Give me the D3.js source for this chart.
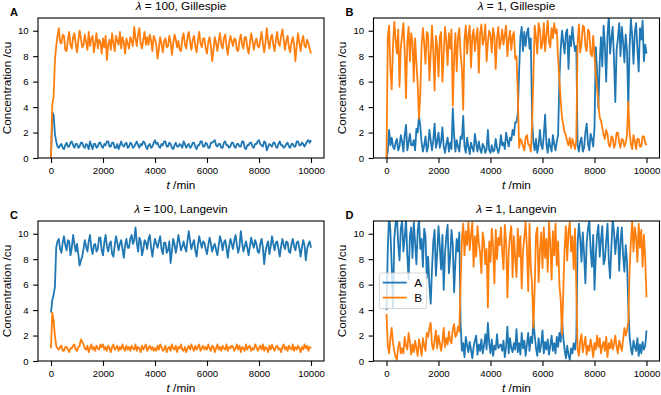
<!DOCTYPE html>
<html>
<head>
<meta charset="utf-8">
<script src="https://cdn.jsdelivr.net/npm/d3@7"></script>
<style>
  body { margin: 0; background: #fff; }
  svg { display: block; font-family: "Liberation Sans", Arial, sans-serif; }
</style>
</head>
<body>
<div id="chart"></div>
<script>
// sampling times in min (every 50 min)
var times = d3.range(0, 10001, 50);

var xTicks = [0, 2000, 4000, 6000, 8000, 10000];
var yTicks = [0, 2, 4, 6, 8, 10];

// lambda = 100, Gillespie
var gilA100 = [
  0, 3.6, 3.4, 1.9, 1.3, 0.9, 0.8, 1.0, 1.1, 0.8,
  0.7, 1.0, 1.2, 0.9, 0.9, 1.2, 1.3, 1.0, 0.8, 1.1,
  1.1, 0.8, 0.9, 1.2, 1.2, 0.9, 0.8, 1.1, 1.0, 0.7,
  1.3, 1.0, 0.7, 1.1, 1.1, 0.8, 0.9, 1.2, 1.2, 0.9,
  0.8, 1.1, 1.0, 1.3, 1.3, 0.9, 0.9, 1.2, 1.2, 0.8,
  0.8, 1.1, 0.7, 1.0, 1.3, 1.0, 0.9, 1.1, 1.2, 0.8,
  0.9, 1.2, 1.1, 0.8, 0.9, 1.1, 1.3, 1.0, 0.8, 1.1,
  1.0, 1.3, 1.2, 0.9, 0.7, 1.0, 1.1, 0.8, 0.9, 1.2,
  1.4, 1.1, 1.2, 0.9, 0.8, 1.1, 1.0, 1.3, 1.3, 0.9,
  0.9, 1.2, 1.1, 0.8, 0.7, 1.0, 1.2, 0.9, 0.9, 1.1,
  1.0, 0.8, 1.3, 1.1, 0.8, 1.0, 1.1, 0.8, 0.9, 1.2,
  1.2, 0.9, 0.7, 1.0, 1.0, 1.3, 1.3, 0.9, 0.9, 1.2,
  1.1, 0.8, 0.8, 1.2, 1.2, 1.3, 1.4, 1.0, 0.9, 1.1,
  1.1, 0.8, 0.8, 1.2, 1.3, 1.0, 1.0, 0.8, 0.9, 1.2,
  1.2, 0.9, 0.8, 1.1, 1.1, 0.9, 0.9, 1.3, 1.3, 0.8,
  0.7, 1.0, 1.0, 1.2, 1.2, 0.9, 0.8, 1.1, 1.1, 1.3,
  1.4, 1.1, 1.0, 0.9, 1.3, 1.2, 0.6, 0.9, 1.1, 1.0,
  0.9, 1.2, 1.2, 0.9, 0.8, 1.1, 1.3, 1.0, 1.0, 0.8,
  0.9, 1.1, 1.2, 0.9, 0.8, 1.1, 1.1, 0.9, 0.9, 1.3,
  1.3, 1.0, 1.0, 1.2, 1.1, 0.9, 1.1, 1.3, 1.4, 1.2,
  1.4];
var gilB100 = [
  0, 4.2, 4.8, 7.6, 8.8, 9.6, 10.2, 9.1, 9.0, 9.7,
  9.6, 8.5, 8.4, 9.3, 9.9, 8.9, 8.6, 9.5, 9.8, 9.0,
  8.3, 9.2, 10.0, 9.4, 8.7, 8.9, 9.7, 9.1, 8.5, 9.9,
  8.8, 9.4, 9.6, 8.3, 9.0, 9.8, 8.6, 9.3, 9.1, 8.2,
  9.4, 8.7, 9.6, 7.7, 8.9, 9.3, 8.5, 9.8, 9.0, 8.4,
  9.6, 9.2, 8.9, 9.9, 8.6, 9.5, 9.1, 8.2, 9.4, 9.0,
  8.6, 9.5, 9.2, 8.8, 10.3, 9.4, 8.8, 9.7, 10.2, 9.0,
  8.6, 9.3, 9.9, 8.9, 9.5, 8.9, 9.7, 9.2, 8.4, 9.6,
  9.3, 8.9, 7.8, 8.6, 9.5, 9.0, 8.3, 9.2, 9.4, 8.7,
  8.8, 9.6, 9.1, 8.1, 9.0, 9.7, 9.3, 8.7, 9.2, 8.5,
  8.4, 9.4, 9.8, 8.9, 8.6, 9.5, 9.9, 9.1, 8.5, 9.3,
  9.6, 8.8, 8.3, 9.2, 9.9, 9.0, 8.7, 9.4, 9.4, 8.6,
  8.2, 9.1, 9.5, 8.8, 7.6, 8.5, 9.5, 9.0, 8.4, 9.2,
  9.8, 8.9, 8.6, 9.4, 9.7, 8.8, 8.1, 9.0, 9.6, 9.2,
  8.8, 9.4, 9.3, 8.5, 8.4, 9.2, 9.7, 8.9, 8.6, 9.5,
  9.5, 8.7, 8.2, 9.0, 9.8, 9.2, 8.5, 9.1, 9.4, 8.8,
  8.7, 9.3, 9.9, 9.0, 8.3, 9.1, 10.2, 9.2, 8.6, 9.4,
  9.7, 8.9, 8.4, 9.3, 9.9, 9.0, 8.8, 9.6, 10.1, 9.3,
  8.5, 9.2, 9.6, 8.7, 8.3, 9.1, 9.5, 8.9, 7.6, 8.8,
  9.8, 9.1, 8.4, 9.2, 9.6, 8.8, 8.7, 9.3, 9.0, 8.6,
  8.2];

// lambda = 1, Gillespie
var gilA1 = [
  0, 0.5, 2.2, 1.0, 1.6, 0.9, 0.7, 1.2, 1.5, 0.6,
  0.9, 1.8, 1.3, 0.5, 1.8, 2.6, 0.6, 1.2, 1.9, 1.0,
  1.0, 1.4, 0.6, 2.3, 2.0, 3.4, 2.5, 1.2, 0.5, 1.0,
  1.7, 0.5, 0.9, 2.2, 1.4, 0.6, 1.4, 2.7, 0.8, 1.3,
  2.0, 0.8, 1.3, 2.4, 0.9, 0.4, 1.1, 1.6, 0.5, 1.2,
  0.7, 3.9, 1.8, 0.5, 1.4, 0.9, 0.5, 1.7, 1.5, 3.3,
  0.9, 0.4, 1.6, 0.9, 0.3, 1.2, 0.8, 0.5, 1.9, 1.1,
  0.5, 1.3, 0.7, 0.4, 1.1, 0.9, 0.4, 0.7, 2.2, 0.6,
  0.4, 1.0, 0.5, 0.6, 1.5, 0.8, 0.4, 0.8, 1.8, 1.0,
  1.2, 0.7, 2.0, 1.4, 0.9, 1.6, 1.4, 2.2, 1.8, 2.8,
  2.8, 3.5, 6.8, 9.5, 10.3, 8.4, 9.9, 8.8, 9.8, 10.2,
  8.6, 9.4, 3.1, 1.2, 0.6, 1.5, 0.4, 1.0, 2.2, 1.0,
  0.7, 1.8, 3.4, 1.1, 0.4, 1.5, 0.9, 0.5, 1.8, 1.1,
  0.6, 1.3, 1.8, 6.2, 8.5, 10.0, 9.1, 8.2, 9.8, 10.1,
  7.0, 9.6, 8.8, 10.3, 9.2, 8.4, 8.8, 1.0, 0.5, 1.3,
  1.6, 0.5, 0.8, 2.0, 2.7, 1.1, 0.6, 1.9, 1.5, 0.9,
  2.4, 8.7, 6.8, 3.9, 7.5, 9.5, 7.2, 10.4, 8.8, 6.0,
  9.6, 11.2, 8.2, 9.4, 10.3, 7.8, 4.4, 8.5, 9.4, 10.6,
  8.0, 10.3, 9.1, 7.5, 9.7, 8.4, 4.0, 8.8, 10.9, 9.6,
  7.4, 9.9, 10.6, 8.6, 6.8, 10.2, 9.3, 10.8, 7.6, 8.9,
  8.2];
var gilB1 = [
  0, 9.5, 10.4, 7.0, 5.4, 8.8, 10.7, 9.3, 8.2, 10.1,
  5.6, 8.7, 9.6, 10.6, 8.4, 4.7, 9.1, 10.3, 7.6, 9.8,
  9.1, 6.0, 9.4, 7.5, 5.8, 3.1, 5.2, 8.8, 10.2, 9.0,
  7.4, 9.9, 9.7, 6.1, 8.2, 10.4, 8.3, 5.3, 9.6, 8.7,
  6.4, 9.5, 9.9, 6.0, 8.1, 10.3, 9.2, 7.3, 9.8, 8.6,
  10.1, 4.1, 7.9, 9.8, 6.8, 9.5, 10.2, 8.2, 7.0, 3.8,
  9.3, 10.4, 8.2, 9.6, 10.4, 7.1, 9.6, 10.1, 8.4, 9.5,
  10.2, 6.7, 9.8, 10.5, 8.9, 9.3, 10.5, 7.6, 9.1, 10.0,
  9.7, 8.3, 10.2, 9.6, 7.0, 9.4, 10.3, 8.6, 9.2, 10.1,
  8.9, 9.7, 10.4, 8.0, 9.3, 10.0, 8.5, 9.6, 9.9, 7.8,
  8.0, 5.0, 0.8, 1.5, 1.3, 0.9, 0.6, 1.6, 1.8, 1.1,
  1.0, 0.5, 2.6, 6.5, 10.4, 9.5, 8.2, 10.6, 10.1, 8.6,
  9.0, 10.6, 8.4, 9.7, 10.8, 9.1, 8.7, 10.2, 9.4, 10.6,
  9.8, 10.1, 7.8, 6.2, 4.5, 3.2, 2.6, 2.0, 1.8, 1.3,
  1.0, 1.6, 0.8, 1.5, 1.1, 0.7, 1.4, 9.0, 10.5, 8.3,
  9.0, 10.4, 10.3, 8.8, 8.4, 10.1, 9.9, 8.2, 8.0, 9.6,
  8.0, 6.6, 5.5, 4.3, 3.2, 2.9, 2.4, 1.8, 1.5, 2.2,
  1.9, 1.0, 0.9, 1.7, 1.6, 0.8, 1.1, 2.0, 2.0, 1.2,
  0.8, 1.5, 1.4, 0.9, 1.2, 1.8, 4.4, 2.0, 1.1, 0.7,
  1.8, 1.3, 0.7, 1.5, 1.5, 0.9, 0.9, 1.7, 1.7, 1.2,
  1.0];

// lambda = 100, Langevin
var lanA100 = [
  3.8, 4.8, 5.2, 5.8, 8.9, 9.4, 9.6, 8.8, 8.5, 9.3,
  9.8, 9.1, 8.7, 9.5, 9.4, 8.3, 8.9, 9.9, 9.2, 8.6,
  9.2, 8.4, 7.5, 7.9, 8.2, 8.8, 9.5, 9.0, 8.6, 9.4,
  9.9, 8.9, 8.4, 9.1, 9.2, 8.6, 8.8, 9.7, 9.7, 8.7,
  8.3, 9.3, 9.9, 9.0, 8.6, 9.2, 9.4, 8.4, 8.2, 9.0,
  9.8, 9.3, 8.7, 9.2, 9.5, 8.8, 8.1, 9.1, 9.6, 8.9,
  8.9, 9.6, 9.9, 9.2, 9.5, 10.5, 9.3, 8.6, 9.7, 9.4,
  8.3, 8.8, 9.5, 9.3, 8.8, 9.6, 9.9, 8.9, 8.2, 9.0,
  9.6, 9.2, 8.9, 9.4, 9.8, 8.8, 8.4, 9.3, 9.3, 8.5,
  8.7, 9.4, 7.7, 8.6, 9.6, 9.2, 8.5, 9.1, 9.9, 9.3,
  8.7, 9.0, 9.4, 8.9, 8.6, 9.5, 10.2, 9.4, 8.8, 9.2,
  9.5, 8.7, 8.2, 9.1, 9.8, 9.3, 8.9, 9.4, 9.3, 8.8,
  8.4, 9.1, 9.7, 9.2, 8.6, 9.0, 9.2, 8.7, 8.3, 9.1,
  9.8, 9.4, 8.7, 9.3, 9.5, 8.9, 8.1, 9.0, 9.6, 9.2,
  8.8, 9.5, 9.9, 9.1, 8.5, 9.0, 10.2, 9.3, 8.6, 9.0,
  9.4, 8.9, 8.3, 9.0, 9.7, 9.2, 8.9, 9.5, 9.2, 8.6,
  8.5, 9.2, 9.6, 8.9, 7.6, 8.6, 9.1, 9.4, 8.4, 9.0,
  9.8, 9.2, 8.7, 9.3, 9.4, 8.8, 8.2, 9.0, 9.6, 9.1,
  8.8, 9.4, 9.3, 8.6, 8.5, 9.2, 9.6, 9.0, 8.7, 9.3,
  9.4, 8.9, 8.2, 8.9, 9.5, 9.1, 7.9, 8.8, 9.2, 9.4,
  8.9];
var lanB100 = [
  1.0, 3.8, 3.2, 2.0, 1.2, 1.0, 0.9, 1.1, 1.2, 0.8,
  0.8, 1.1, 1.1, 0.9, 0.7, 1.0, 1.0, 1.2, 1.3, 0.9,
  0.8, 1.1, 1.2, 1.7, 1.5, 1.3, 1.0, 0.9, 1.2, 0.7,
  1.0, 1.3, 0.9, 1.1, 0.8, 1.2, 1.0, 0.9, 1.3, 1.1,
  1.3, 0.9, 1.1, 0.8, 1.2, 1.0, 0.7, 1.1, 1.3, 0.9,
  1.0, 1.2, 0.8, 1.1, 0.9, 1.3, 1.0, 0.8, 1.2, 0.9,
  1.1, 0.8, 1.2, 1.0, 0.9, 1.3, 0.8, 1.1, 1.0, 0.7,
  1.2, 0.9, 1.1, 1.3, 0.8, 1.0, 1.2, 0.9, 1.1, 0.8,
  1.0, 0.8, 1.2, 0.9, 1.3, 1.1, 0.8, 0.9, 1.2, 0.7,
  1.0, 1.1, 0.8, 1.3, 1.0, 0.9, 1.2, 0.7, 1.1, 1.0,
  1.3, 0.9, 0.8, 1.1, 0.7, 1.0, 1.2, 0.9, 1.3, 1.0,
  0.8, 1.2, 0.9, 1.1, 1.3, 0.8, 1.0, 1.2, 0.9, 1.1,
  0.9, 1.3, 1.0, 0.8, 1.2, 1.1, 0.7, 1.0, 1.3, 0.9,
  1.1, 0.8, 1.2, 1.0, 0.9, 1.3, 0.8, 1.1, 1.0, 1.2,
  1.1, 0.8, 1.0, 1.3, 0.9, 1.2, 0.7, 1.1, 1.0, 0.8,
  1.3, 0.9, 1.1, 1.2, 0.8, 1.0, 0.9, 1.3, 1.1, 0.8,
  1.0, 1.2, 0.9, 1.3, 0.8, 1.1, 1.0, 0.7, 1.2, 0.9,
  1.3, 1.0, 0.8, 1.1, 1.2, 0.9, 1.0, 0.7, 1.1, 1.3,
  0.9, 1.1, 0.8, 1.2, 1.0, 0.9, 1.3, 0.8, 1.1, 0.9,
  1.2, 1.0, 0.7, 1.1, 0.9, 1.3, 1.0, 1.2, 0.8, 1.1,
  1.0];

// lambda = 1, Langevin
var lanA1 = [
  4.0, 8.8, 11.5, 10.2, 7.5, 4.2, 9.6, 10.8, 11.3, 9.2,
  7.9, 10.4, 11.0, 8.6, 9.7, 11.2, 8.3, 6.4, 9.8, 10.5,
  8.1, 10.9, 9.3, 7.6, 10.2, 11.1, 8.8, 9.6, 7.4, 10.4,
  9.8, 6.5, 8.2, 6.0, 4.5, 7.2, 9.4, 10.3, 6.7, 8.5,
  10.6, 9.0, 7.2, 9.9, 5.6, 8.4, 9.8, 10.7, 6.9, 8.2,
  10.3, 9.1, 5.4, 7.8, 9.6, 8.6, 10.1, 3.0, 0.8, 1.4,
  0.3, 1.9, 1.2, 0.7, 1.5, 0.9, 0.2, 1.1, 1.6, 2.0,
  0.5, 1.3, 0.8, 1.7, 0.6, 1.2, 2.1, 0.9, 3.0, 1.4,
  0.6, 1.7, 0.4, 1.2, 0.9, 2.1, 1.0, 1.2, 1.3, 0.8,
  1.6, 0.3, 1.1, 2.7, 0.6, 1.8, 1.0, 0.7, 1.4, 0.9,
  2.5, 0.7, 1.4, 0.5, 2.2, 1.0, 1.6, 0.4, 1.3, 2.2,
  0.8, 1.9, 1.4, 3.2, 2.0, 1.0, 0.4, 1.8, 0.7, 1.3,
  2.4, 0.6, 1.5, 0.9, 1.7, 0.5, 1.2, 2.0, 0.8, 1.4,
  0.6, 1.9, 1.1, 2.2, 1.5, 3.3, 1.8, 0.9, 0.2, 1.2,
  0.5, 0.1, 1.0, 0.6, 1.4, 0.9, 1.8, 9.2, 10.8, 9.6,
  7.8, 10.1, 8.4, 6.1, 9.3, 10.4, 11.0, 8.7, 7.4, 9.9,
  5.6, 8.3, 9.9, 10.7, 8.2, 9.5, 10.6, 7.6, 8.0, 9.4,
  10.8, 7.9, 6.5, 9.0, 11.2, 10.1, 8.4, 9.7, 10.5, 7.1,
  9.3, 10.5, 8.3, 7.0, 9.1, 7.8, 4.3, 1.9, 1.0, 0.5,
  1.6, 1.1, 0.8, 1.8, 0.4, 1.3, 0.6, 1.5, 0.9, 1.2,
  2.4];
var lanB1 = [
  3.7, 1.2, 0.6, 1.8, 2.6, 1.4, 0.8, 0.3, 0.1, 1.1,
  1.5, 0.6, 1.0, 0.6, 1.9, 1.2, 0.9, 2.2, 1.5, 0.5,
  1.3, 0.7, 1.6, 1.0, 0.4, 1.7, 1.1, 0.4, 1.8, 1.2,
  0.8, 2.2, 1.9, 2.6, 3.0, 1.3, 0.9, 1.6, 2.4, 1.0,
  2.0, 1.4, 0.8, 1.5, 2.6, 1.1, 1.8, 1.3, 2.3, 1.6,
  1.4, 2.5, 2.9, 1.9, 2.1, 2.7, 2.3, 6.0, 9.6, 10.8,
  8.3, 10.2, 9.1, 10.9, 8.7, 9.9, 10.9, 7.4, 9.8, 8.2,
  10.6, 9.3, 8.5, 6.9, 10.1, 9.4, 7.6, 8.8, 4.2, 9.4,
  7.8, 10.4, 9.0, 6.1, 10.3, 8.0, 9.7, 9.1, 10.5, 8.6,
  7.2, 10.7, 9.4, 5.0, 8.5, 9.9, 10.6, 6.6, 9.8, 8.1,
  6.6, 10.4, 8.2, 9.8, 5.7, 8.6, 9.7, 10.9, 8.9, 5.5,
  10.8, 7.3, 6.0, 2.6, 5.8, 9.9, 10.5, 6.2, 8.6, 10.1,
  7.3, 10.5, 8.1, 9.6, 7.0, 10.9, 9.2, 6.4, 10.2, 8.3,
  10.8, 7.5, 9.4, 6.0, 4.8, 2.1, 5.5, 8.8, 10.6, 7.9,
  10.2, 10.9, 8.6, 9.8, 7.2, 10.4, 5.8, 0.9, 0.4, 1.6,
  2.1, 0.7, 1.3, 1.9, 0.5, 1.2, 0.8, 1.7, 1.1, 0.3,
  1.4, 0.9, 2.0, 1.1, 1.8, 0.6, 1.2, 1.5, 0.8, 1.9,
  0.3, 1.4, 1.0, 1.7, 0.9, 1.3, 2.0, 1.1, 0.6, 1.6,
  1.2, 0.8, 1.7, 2.6, 2.0, 2.4, 3.1, 7.2, 9.4, 11.0,
  8.6, 10.5, 9.7, 7.8, 10.8, 8.9, 10.3, 7.4, 9.9, 8.2,
  5.0];

var panels = [
  { letter: "A", lambda: "100", method: "Gillespie", a: gilA100, b: gilB100, col: 0, row: 0 },
  { letter: "B", lambda: "1", method: "Gillespie", a: gilA1, b: gilB1, col: 1, row: 0 },
  { letter: "C", lambda: "100", method: "Langevin", a: lanA100, b: lanB100, col: 0, row: 1 },
  { letter: "D", lambda: "1", method: "Langevin", a: lanA1, b: lanB1, col: 1, row: 1, legend: true }
];

var colA = "#1f77b4", colB = "#ff7f0e";
var tickFont = 9.6, labelFont = 11.8;

var width = 286, height = 140;
var colX = [38, 373.5], rowY = [18, 221];

var svg = d3.select("#chart")
    .append("svg")
        .attr("width", 661)
        .attr("height", 395);

var x = d3.scaleLinear().domain([-500, 10500]).range([0, width]);
var y = d3.scaleLinear().domain([0, 11]).range([height, 0]);

var line = d3.line()
    .x((d, i) => x(times[i]))
    .y(d => y(d));

panels.forEach((p, k) => {
    var g = svg.append("g")
        .attr("transform", "translate(" + colX[p.col] + "," + rowY[p.row] + ")");

    g.append("clipPath").attr("id", "clip" + k)
        .append("rect").attr("width", width).attr("height", height);

    var plot = g.append("g").attr("clip-path", "url(#clip" + k + ")");
    [[p.a, colA], [p.b, colB]].forEach(s => {
        plot.append("path")
            .datum(s[0])
            .attr("d", line)
            .attr("fill", "none")
            .attr("stroke", s[1])
            .attr("stroke-width", 1.8)
            .attr("stroke-linejoin", "round");
    });

    // axes
    var xAxisCall = d3.axisBottom(x).tickValues(xTicks).tickFormat(d3.format("d"))
        .tickSize(4.9).tickSizeOuter(0).tickPadding(4.6);
    var xa = g.append("g")
        .attr("transform", "translate(0," + height + ")")
        .call(xAxisCall);
    var yAxisCall = d3.axisLeft(y).tickValues(yTicks).tickFormat(d3.format("d"))
        .tickSize(4.9).tickSizeOuter(0).tickPadding(4.4);
    var ya = g.append("g").call(yAxisCall);
    [xa, ya].forEach(a => {
        a.select(".domain").remove();
        a.attr("font-family", null).attr("font-size", tickFont);
        a.selectAll("line").attr("stroke", "#000").attr("stroke-width", 1.1);
        a.selectAll("text").attr("fill", "#000");
    });

    // frame
    g.append("rect")
        .attr("width", width)
        .attr("height", height)
        .attr("fill", "none")
        .attr("stroke", "#000")
        .attr("stroke-width", 1.1);

    // title
    var t = g.append("text")
        .attr("x", width / 2)
        .attr("y", -8)
        .attr("text-anchor", "middle")
        .attr("font-size", labelFont);
    t.append("tspan").attr("font-style", "italic").text("λ");
    t.append("tspan").text(" = " + p.lambda + ", " + p.method);

    // panel letter
    g.append("text")
        .attr("x", -28)
        .attr("y", -2)
        .attr("font-size", 11)
        .attr("font-weight", "bold")
        .text(p.letter);

    // axis labels
    var xl = g.append("text")
        .attr("x", width / 2)
        .attr("y", height + 31)
        .attr("text-anchor", "middle")
        .attr("font-size", labelFont);
    xl.append("tspan").attr("font-style", "italic").text("t");
    xl.append("tspan").text(" /min");

    g.append("text")
        .attr("transform", "translate(-27.5," + (height / 2) + ") rotate(-90)")
        .attr("text-anchor", "middle")
        .attr("font-size", labelFont)
        .text("Concentration /cu");

    if (p.legend) {
        var lg = g.append("g").attr("transform", "translate(5.8,52)");
        lg.append("rect")
            .attr("width", 47.4)
            .attr("height", 35.5)
            .attr("rx", 2)
            .attr("fill", "#fff")
            .attr("fill-opacity", 0.8)
            .attr("stroke", "#ccc")
            .attr("stroke-width", 0.8);
        [["A", colA], ["B", colB]].forEach((d, i) => {
            lg.append("line")
                .attr("x1", 3.4).attr("x2", 27.4)
                .attr("y1", 9.6 + i * 15).attr("y2", 9.6 + i * 15)
                .attr("stroke", d[1])
                .attr("stroke-width", 1.8);
            lg.append("text")
                .attr("x", 35)
                .attr("y", 13.6 + i * 15)
                .attr("font-size", labelFont)
                .text(d[0]);
        });
    }
});
</script>
</body>
</html>
